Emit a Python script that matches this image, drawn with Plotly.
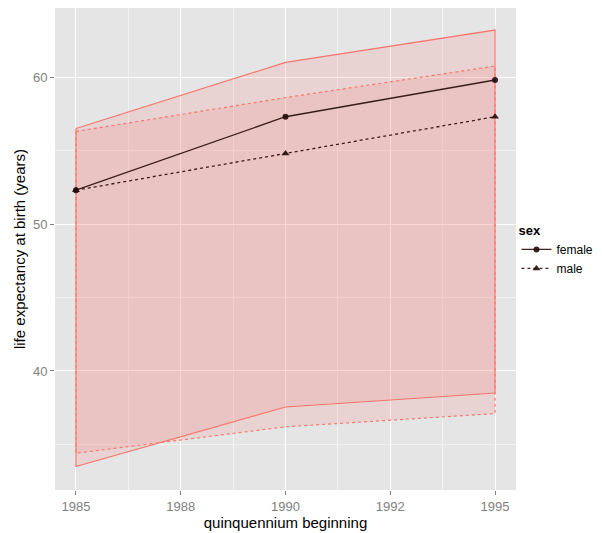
import plotly.graph_objects as go

# quinquennium start years
years = [1985, 1990, 1995]

# mean life expectancy at birth
female_mean = [52.3, 57.3, 59.8]
male_mean = [52.3, 54.8, 57.3]

# interval bounds
female_upper = [56.5, 61.0, 63.2]
female_lower = [33.5, 37.55, 38.5]
male_upper = [56.3, 58.6, 60.75]
male_lower = [34.4, 36.2, 37.1]

red = "#F8766D"
fill = "rgba(248,118,109,0.16)"
dark = "rgba(40,10,10,0.9)"

fig = go.Figure()


def ribbon(upper, lower, dash, name):
    xs = years + years[::-1] + [years[0]]
    ys = upper + lower[::-1] + [upper[0]]
    return go.Scatter(x=xs, y=ys, mode="lines", fill="toself", fillcolor=fill,
                      line=dict(color=red, width=1.2, dash=dash),
                      name=name, legendgroup=name, showlegend=False, hoverinfo="skip")


fig.add_trace(ribbon(female_upper, female_lower, "solid", "female"))
fig.add_trace(ribbon(male_upper, male_lower, "dot", "male"))

fig.add_trace(go.Scatter(x=years, y=female_mean, mode="lines+markers", name="female",
                         legendgroup="female",
                         line=dict(color=dark, width=1.3, dash="solid"),
                         marker=dict(symbol="circle", size=6, color=dark)))
fig.add_trace(go.Scatter(x=years, y=male_mean, mode="lines+markers", name="male",
                         legendgroup="male",
                         line=dict(color=dark, width=1.3, dash="dot"),
                         marker=dict(symbol="triangle-up", size=7, color=dark)))

# page body has an 8px margin, so the figure is sized to fit the window
fig.update_layout(
    width=594, height=525,
    margin=dict(l=47, r=86, t=0, b=43, autoexpand=False),
    paper_bgcolor="white",
    plot_bgcolor="#E5E5E5",
    font=dict(family="Liberation Sans, Arial, sans-serif", size=13, color="black"),
    legend=dict(title=dict(text="<b>sex</b>", font=dict(size=13)),
                xref="container", yref="container",
                x=0.856, y=0.6, xanchor="left", yanchor="top",
                bgcolor="rgba(0,0,0,0)", font=dict(size=12),
                tracegroupgap=0, itemwidth=30),
)

fig.update_xaxes(
    range=[1984.5, 1995.5],
    tickvals=[1985, 1987.5, 1990, 1992.5, 1995],
    ticktext=["1985", "1988", "1990", "1992", "1995"],
    showgrid=True, gridcolor="white", gridwidth=1.2,
    minor=dict(tickvals=[1986.25, 1988.75, 1991.25, 1993.75], showgrid=True,
               gridcolor="#F2F2F2", gridwidth=0.6),
    zeroline=False, ticks="outside", ticklen=4, tickcolor="#7F7F7F",
    tickfont=dict(color="#7F7F7F", size=13), automargin=False,
    title=dict(text="quinquennium beginning", font=dict(size=15), standoff=0),
)
fig.update_yaxes(
    range=[31.9, 64.7],
    tickvals=[40, 50, 60],
    showgrid=True, gridcolor="white", gridwidth=1.2,
    minor=dict(tickvals=[35, 45, 55], showgrid=True, gridcolor="#F2F2F2", gridwidth=0.6),
    zeroline=False, ticks="outside", ticklen=4, tickcolor="#7F7F7F",
    tickfont=dict(color="#7F7F7F", size=13), automargin=False,
    title=dict(text="life expectancy at birth (years)", font=dict(size=15), standoff=3),
)

fig.write_html("out.html")
